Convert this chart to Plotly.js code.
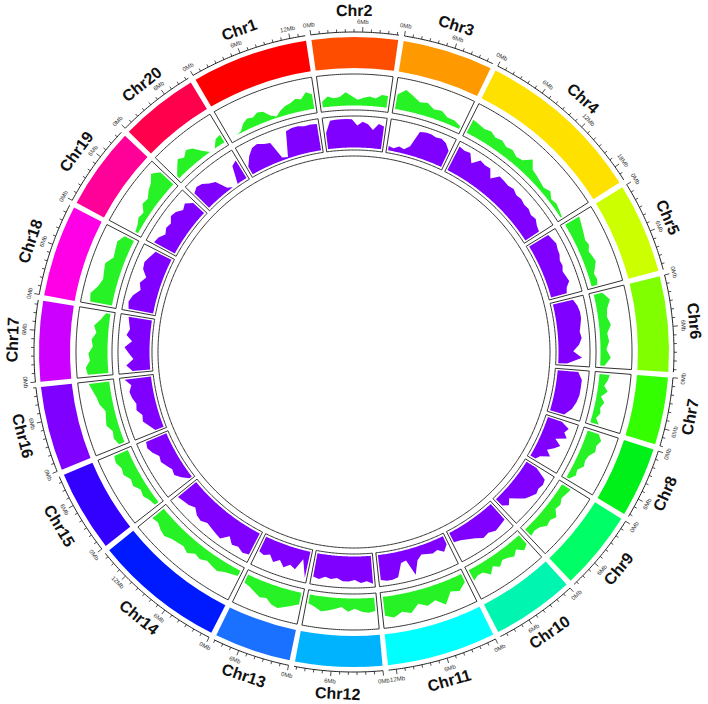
<!DOCTYPE html>
<html>
<head>
<meta charset="utf-8">
<script src="https://cdn.plot.ly/plotly-3.0.1.min.js"></script>
<style>body{margin:0;background:#fff}</style>
</head>
<body>
<div id="plotDiv" style="width:708px;height:704px"></div>
<script>
// chromosomes, lengths in Mb
const chromosomes = ['Chr1','Chr2','Chr3','Chr4','Chr5','Chr6','Chr7','Chr8','Chr9','Chr10',
  'Chr11','Chr12','Chr13','Chr14','Chr15','Chr16','Chr17','Chr18','Chr19','Chr20'];
const lengths = [13.8,10.2,10.7,19.8,10.7,11.3,8.0,8.3,9.4,9.8,12.9,10.3,9.1,15.5,9.7,10.0,9.5,10.9,9.7,9.3];
const chrColors = ['#ff0000','#ff4d00','#ff9900','#ffe100','#ccff00','#80ff00','#33ff00','#00f01a','#00ff66','#00f5b0',
  '#00ffff','#00b3ff','#1a70ff','#001aff','#3300ff','#8000ff','#cc00ff','#ff00e6','#ff0099','#ff004d'];

// outer track (green), relative density along each chromosome
const greenTrack = [
  [0,0,0.05,0.25,0.35,0.3,0.4,0.35,0.15,0.05,0.2,0.3,0.35,0.45,0.4,0.6,0.5],
  [0.2,0.35,0.27,0.3,0.45,0.32,0.2,0.27,0.32,0.27,0.41,0.4],
  [0.5,0.7,0.55,0.4,0.45,0.3,0.35,0.2,0.2,0.1],
  [0.5,0.45,0.4,0.45,0.35,0.4,0.3,0.35,0.25,0.3,0.55,0.3,0.25,0.2,0.15,0.25,0.1,0.15,0.1,0.05],
  [0.55,0.5,0.45,0.4,0.35,0.4,0.3,0.35,0.4,0.3,0.2,0.25,0.2],
  [0.3,0.5,0.35,0.3,0.4,0.25,0.3,0.2,0.35,0.15],
  [0.35,0.3,0.2,0.35,0.15,0.3,0.2,0.25,0.15,0.3],
  [0.4,0.55,0.45,0.5,0.35,0.3,0.35,0.2,0.25,0.1],
  [0.35,0.3,0.25,0.35,0.3,0.5,0.4,0.45,0.3,0.25,0.3],
  [0.4,0.5,0.3,0.45,0.35,0.3,0.45,0.3,0.5,0.3,0.3,0.4],
  [0.3,0.5,0.4,0.75,0.5,0.6,0.45,0.7,0.6,0.75,0.65],
  [0.45,0.5,0.45,0.35,0.45,0.3,0.38,0.45,0.5,0.38,0.3],
  [0.4,0.5,0.6,0.7,0.65,0.5,0.55,0.45,0.35,0.3],
  [0.2,0.25,0.3,0.4,0.35,0.3,0.4,0.35,0.5,0.4,0.45,0.5,0.6,0.55,0.45,0.5],
  [0.15,0.2,0.3,0.25,0.4,0.35,0.5,0.45,0.55,0.5],
  [0.2,0.3,0.25,0.4,0.35,0.3,0.45,0.5,0.6,0.7],
  [0.7,0.75,0.6,0.65,0.5,0.55,0.4,0.5,0.3,0.15],
  [0.75,0.8,0.6,0.5,0.55,0.6,0.4,0.45,0.5,0.35],
  [0.1,0.15,0.25,0.2,0.4,0.35,0.5,0.6,0.8,0.6],
  [0.1,0.3,0.5,0.4,0.55,0.45,0.2,0,0,0.25,0.3]
];

// inner track (purple)
const purpleTrack = [
  [0.3,0.6,0.8,0.85,0.75,0.7,0.1,0.05,0.9,0.95,0.95,0.9,0.92,0.9],
  [0.55,0.95,0.97,0.97,0.97,0.96,0.75,0.88,0.8,0.62,0.84,0.78],
  [0.15,0.1,0.2,0.15,0.3,0.85,0.9,0.9,0.85,0.88,0.8,0.6],
  [0.9,0.85,0.88,0.6,0.85,0.8,0.82,0.55,0.8,0.78,0.75,0.8,0.72,0.75,0.7,0.72,0.65,0.7,0.6,0.55],
  [0.75,0.8,0.85,0.8,0.78,0.7,0.72,0.65,0.7,0.75,0.6,0.55],
  [0.7,0.8,0.85,0.85,0.8,0.75,0.8,0.7,0.5,0.8,0.3],
  [0.7,0.85,0.85,0.85,0.8,0.7,0.5],
  [0.5,0.8,0.7,0.85,0.5,0.75,0.6,0.4,0.6,0.3,0.2],
  [0.4,0.85,0.9,0.85,0.9,0.8,0.7,0.5,0.3,0.45,0.3],
  [0.7,0.75,0.8,0.7,0.75,0.6,0.5,0.4,0.35],
  [0.3,0.5,0.35,0.4,0.35,0.3,0.45,0.9,0.35,0.4,0.85,0.9,0.9,0.85],
  [0.95,0.85,0.9,0.8,0.85,0.85,0.75,0.8,0.75,0.85,0.8],
  [0.9,0.3,0.7,0.6,0.75,0.55,0.7,0.5,0.6,0.55],
  [0.8,0.85,0.75,0.8,0.6,0.85,0.8,0.75,0.7,0.8,0.75,0.6,0.7,0.75,0.8],
  [0.1,0.3,0.45,0.4,0.5,0.6,0.55,0.7,0.8,0.75],
  [0.3,0.45,0.6,0.55,0.7,0.65,0.75,0.8,0.7,0.9],
  [0.6,0.8,0.55,0.7,0.85,0.6,0.8,0.7,0.75,0.8],
  [0.85,0.9,0.8,0.6,0.7,0.55,0.75,0.8,0.7,0.6],
  [0.8,0.75,0.6,0.7,0.65,0.8,0.75,0.6,0.7,0.5],
  [0.7,0.8,0.75,0.6,0.5,0.1,0,0,0.6,0.7]
];

const tickStep = 1, labelStep = 6;

// layout of the rings (radial axis is in pixels, 0..352)
const W = 708, H = 704, RMAX = 352;
const gap = 1.0, startAngle = -30.2;
const rAxis = 320, rBlockIn = 284, rBlockOut = 315;
const green = {inR: 242, outR: 278, base: 246.5, top: 276, color: '#26f226'};
const purple = {inR: 202, outR: 236, base: 204.5, top: 234, color: '#8000ff'};
const rInner = 196;

const total = lengths.reduce((a, b) => a + b, 0);
const degPerMb = (360 - gap * chromosomes.length) / total;
const starts = [];
let acc = startAngle;
lengths.forEach((L) => { starts.push(acc); acc += L * degPerMb + gap; });
const ends = starts.map((s, i) => s + lengths[i] * degPerMb);

function arc(r, a0, a1) {
  const n = Math.max(2, Math.ceil(Math.abs(a1 - a0) / 0.4) + 1);
  const th = [], rr = [];
  for (let k = 0; k < n; k++) { th.push(a0 + (a1 - a0) * k / (n - 1)); rr.push(r); }
  return {th, rr};
}

let traces = [];

// chromosome blocks
traces.push({
  type: 'barpolar',
  theta: starts.map((s, i) => (s + ends[i]) / 2),
  r: chromosomes.map(() => rBlockOut - rBlockIn),
  base: chromosomes.map(() => rBlockIn),
  width: lengths.map((L) => L * degPerMb),
  marker: {color: chrColors, line: {width: 0}},
  hoverinfo: 'skip', showlegend: false
});

// axis arcs and ticks
let axTh = [], axR = [], tkTh = [], tkR = [];
chromosomes.forEach((c, i) => {
  const a = arc(rAxis, starts[i], ends[i]);
  axTh.push(...a.th, null); axR.push(...a.rr, null);
  for (let m = 0; m <= lengths[i]; m += tickStep) {
    const t = starts[i] + m * degPerMb;
    const len = (m % labelStep === 0) ? 5 : 3;
    tkTh.push(t, t, null); tkR.push(rAxis, rAxis + len, null);
  }
});
traces.push({type: 'scatterpolar', mode: 'lines', theta: axTh, r: axR,
  line: {color: '#222', width: 1}, hoverinfo: 'skip', showlegend: false});
traces.push({type: 'scatterpolar', mode: 'lines', theta: tkTh, r: tkR,
  line: {color: '#222', width: 0.8}, hoverinfo: 'skip', showlegend: false});

// track fills
function trackFill(vals, i, tr) {
  const pad = 0.5;
  const a0 = starts[i] + pad, a1 = ends[i] - pad;
  const th = [], rr = [];
  vals.forEach((v, j) => {
    th.push(a0 + (a1 - a0) * j / (vals.length - 1));
    rr.push(tr.base + v * (tr.top - tr.base));
  });
  const b = arc(tr.base, a1, a0);
  return {type: 'scatterpolar', mode: 'lines', theta: th.concat(b.th), r: rr.concat(b.rr),
    fill: 'toself', fillcolor: tr.color, line: {width: 0, color: tr.color},
    hoverinfo: 'skip', showlegend: false};
}
chromosomes.forEach((c, i) => {
  traces.push(trackFill(greenTrack[i], i, green));
  traces.push(trackFill(purpleTrack[i], i, purple));
});

// track boxes
let bxTh = [], bxR = [];
chromosomes.forEach((c, i) => {
  [green, purple].forEach((tr) => {
    const o = arc(tr.outR, starts[i], ends[i]);
    const n = arc(tr.inR, ends[i], starts[i]);
    bxTh.push(...o.th, ...n.th, starts[i], null);
    bxR.push(...o.rr, ...n.rr, tr.outR, null);
  });
});
traces.push({type: 'scatterpolar', mode: 'lines', theta: bxTh, r: bxR,
  line: {color: '#333', width: 1}, hoverinfo: 'skip', showlegend: false});

// inner circle
const ic = arc(rInner, 0, 360);
traces.push({type: 'scatterpolar', mode: 'lines', theta: ic.th, r: ic.rr,
  line: {color: '#333', width: 1}, hoverinfo: 'skip', showlegend: false});

// labels (rotated along the circle)
function toPaper(r, deg) {
  const a = deg * Math.PI / 180;
  return {x: (W / 2 + r * Math.sin(a)) / W, y: (H / 2 + r * Math.cos(a)) / H};
}
function tangentAngle(deg) {
  let d = ((deg % 360) + 360) % 360;
  if (d > 90 && d < 270) return d - 180;
  return d > 270 ? d - 360 : d;
}
let annotations = [];
chromosomes.forEach((c, i) => {
  const mid = (starts[i] + ends[i]) / 2;
  const p = toPaper(342, mid);
  annotations.push({text: c, x: p.x, y: p.y, xref: 'paper', yref: 'paper', showarrow: false,
    xanchor: 'center', yanchor: 'middle', textangle: tangentAngle(mid),
    font: {family: 'Liberation Sans, Arial, sans-serif', size: 16, color: '#111', weight: 'bold'}});
  for (let m = 0; m <= lengths[i]; m += labelStep) {
    const t = starts[i] + m * degPerMb;
    const q = toPaper(330, t);
    annotations.push({text: m + 'Mb', x: q.x, y: q.y, xref: 'paper', yref: 'paper', showarrow: false,
      xanchor: 'center', yanchor: 'middle', textangle: tangentAngle(t),
      font: {family: 'Liberation Sans, Arial, sans-serif', size: 6, color: '#333'}});
  }
});

const layout = {
  width: W, height: H,
  margin: {l: 0, r: 0, t: 0, b: 0},
  paper_bgcolor: '#fff',
  showlegend: false,
  polar: {
    domain: {x: [0, 1], y: [0, 1]},
    bgcolor: '#fff',
    radialaxis: {range: [0, RMAX], visible: false, showgrid: false},
    angularaxis: {direction: 'clockwise', rotation: 90, visible: false, showgrid: false},
    bargap: 0
  },
  annotations: annotations
};

Plotly.newPlot('plotDiv', traces, layout, {staticPlot: true});
</script>
</body>
</html>
